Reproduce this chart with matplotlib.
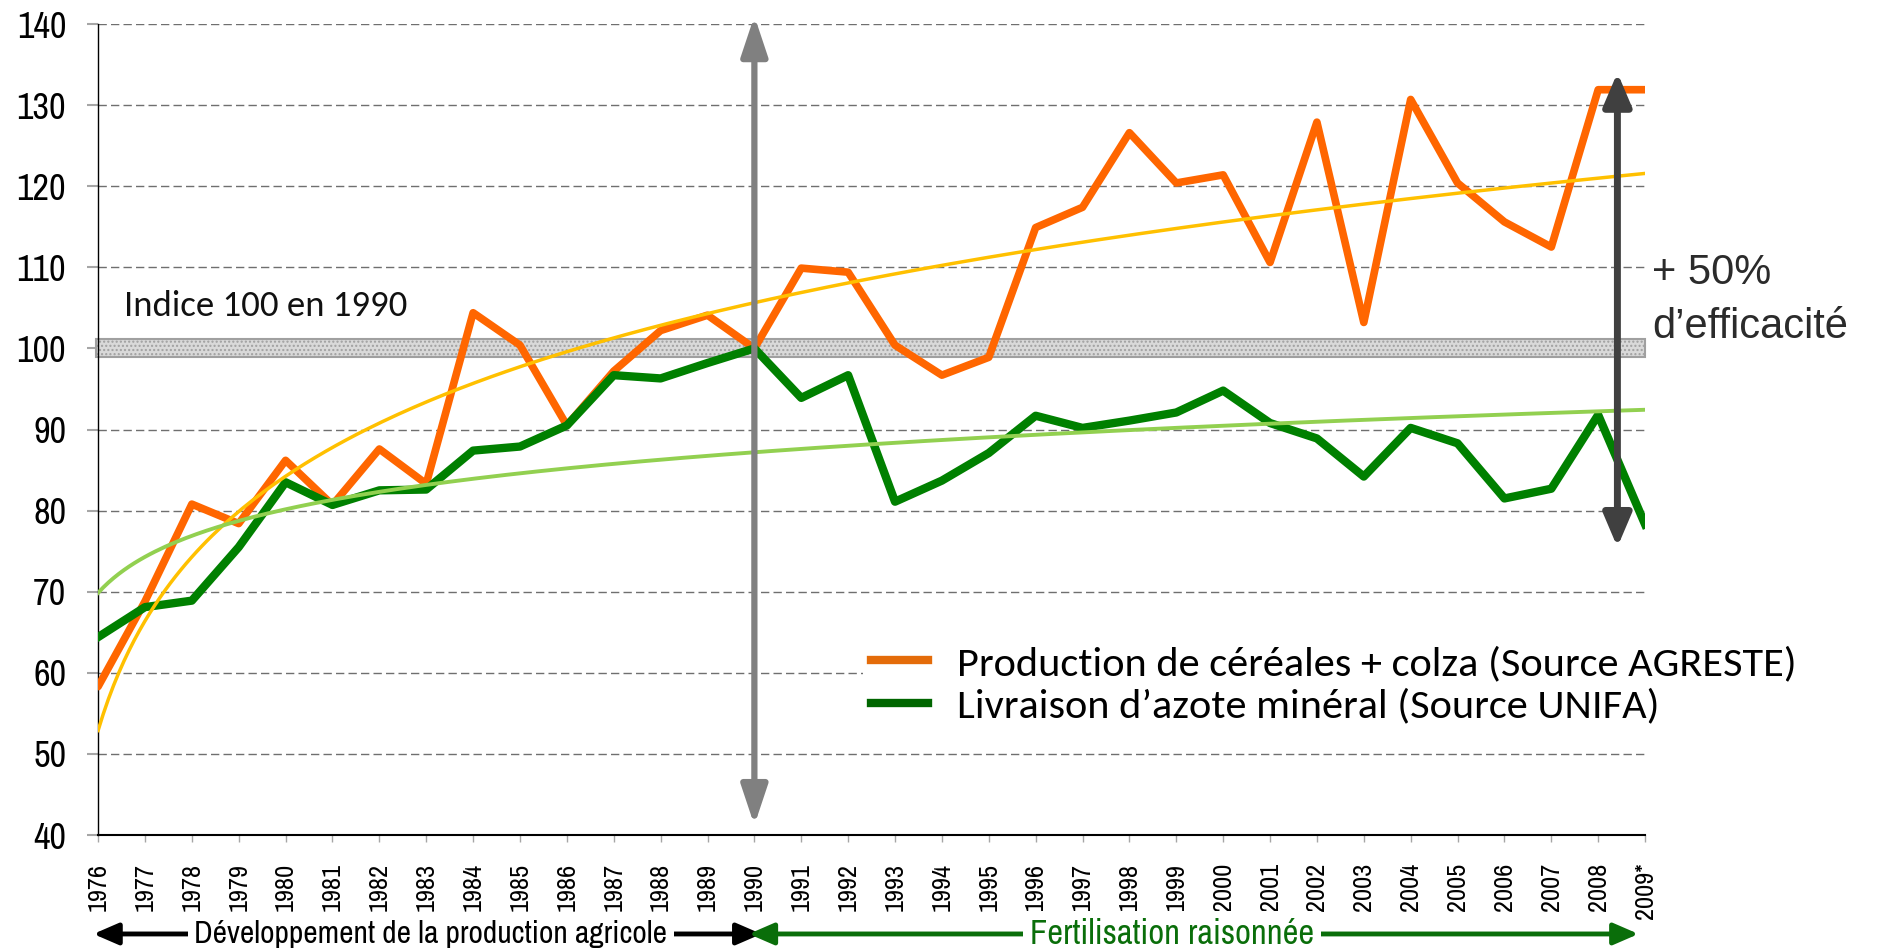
import numpy as np
import matplotlib.pyplot as plt
from matplotlib.lines import Line2D
from matplotlib.patches import Rectangle

# --- data (indices, base 100 en 1990) ---
years = [str(y) for y in range(1976, 2009)] + ["2009*"]
production = [58.3, 68.8, 80.8, 78.4, 86.2, 80.7, 87.6, 83.3, 104.4, 100.4,
              90.5, 97.2, 102.2, 104.1, 100.0, 109.9, 109.4, 100.4, 96.7, 98.9,
              114.9, 117.4, 126.6, 120.4, 121.4, 110.6, 127.9, 103.2, 130.7, 120.4,
              115.6, 112.5, 131.9, 131.9]
azote = [64.4, 68.1, 68.9, 75.5, 83.5, 80.7, 82.5, 82.6, 87.4, 87.9,
         90.5, 96.7, 96.3, 98.2, 100.0, 93.9, 96.7, 81.1, 83.7, 87.1,
         91.7, 90.2, 91.1, 92.1, 94.8, 90.8, 88.9, 84.2, 90.2, 88.3,
         81.5, 82.7, 91.8, 78.3]
labels = ["Production de céréales + colza (Source AGRESTE)",
          "Livraison d\u2019azote minéral (Source UNIFA)"]

x = np.arange(len(years))

# tendances logarithmiques (comme Excel)
lx = np.log(x + 1)
a1, b1 = np.polyfit(lx, production, 1)
a2, b2 = np.polyfit(lx, azote, 1)
xs = np.linspace(0, len(years) - 1, 300)
trend_prod = a1 * np.log(xs + 1) + b1
trend_az = a2 * np.log(xs + 1) + b2

NARROW = ['Archivo Narrow', 'Roboto Condensed', 'DejaVu Sans']
REG = ['Liberation Sans', 'DejaVu Sans']
CAL = ['Carlito', 'DejaVu Sans']

fig = plt.figure(figsize=(18.79, 9.49), dpi=100)
ax = fig.add_axes([0.0522, 0.1201, 0.8233, 0.8546])

ax.set_xlim(0, len(years) - 1)
ax.set_ylim(40, 140)
ax.set_yticks(range(40, 141, 10))
ax.set_xticks(x)
ax.set_xticklabels(years, rotation=90, family=NARROW, fontsize=19)
for t in ax.get_yticklabels():
    t.set_family(NARROW)
    t.set_fontsize(26)

ax.yaxis.grid(True, linestyle=(0, (6, 3)), color='#6f6f6f', linewidth=1)
ax.set_axisbelow(True)
for s in ['top', 'right']:
    ax.spines[s].set_visible(False)
ax.spines['left'].set_linewidth(1)
ax.spines['bottom'].set_linewidth(1.5)
ax.tick_params(axis='y', length=8, width=1.5, color='#a6a6a6', pad=15)
ax.tick_params(axis='x', length=5, width=1, color='#a6a6a6', pad=15)

# bande indice 100
ax.add_patch(Rectangle((-0.05, 99.0), len(years) - 1 + 0.05, 2.2,
                       facecolor='#d9d9d9', edgecolor='#a0a0a0', hatch='....',
                       linewidth=1.5, zorder=1.5, clip_on=False))

ax.plot(x, production, color='#ff6600', lw=5.5, solid_joinstyle='round',
        solid_capstyle='round', zorder=3)
ax.plot(x, azote, color='#008000', lw=6, solid_joinstyle='round', zorder=3)
ax.plot(xs, trend_prod, color='#ffc000', lw=2.5, zorder=4)
ax.plot(xs, trend_az, color='#92d050', lw=2.8, zorder=4)

ax.text(0.55, 105.2, "Indice 100 en 1990", family=CAL, fontsize=26.5,
        va='center', ha='left', color='#111111')

# fleche verticale 1990
ax.annotate("", xy=(14, 141.0), xytext=(14, 41.2),
            arrowprops=dict(arrowstyle='<|-|>,head_length=2.4,head_width=0.8',
                            mutation_scale=10, color='#808080', lw=4.5,
                            shrinkA=0, shrinkB=0), zorder=5,
            annotation_clip=False)
# fleche +50%
ax.annotate("", xy=(32.41, 134.0), xytext=(32.41, 75.5),
            arrowprops=dict(arrowstyle='<|-|>,head_length=2.0,head_width=0.85',
                            mutation_scale=10, color='#404040', lw=5,
                            shrinkA=0, shrinkB=0), zorder=5,
            annotation_clip=False)
ax.text(33.15, 109.3, "+ 50%", family=REG, fontsize=30, color='#2b2b2b',
        va='center', ha='left', clip_on=False)
ax.text(33.15, 102.6, "d\u2019efficacité", family=REG, fontsize=30,
        color='#2b2b2b', va='center', ha='left', clip_on=False)

# fleches du bas
yb = -0.122
ax.annotate("", xy=(-0.1, yb), xytext=(14.15, yb),
            xycoords=('data', 'axes fraction'), textcoords=('data', 'axes fraction'),
            arrowprops=dict(arrowstyle='<|-|>,head_length=1.5,head_width=0.65',
                            mutation_scale=10, color='black', lw=3.5,
                            shrinkA=0, shrinkB=0), annotation_clip=False)
ax.annotate("", xy=(13.88, yb), xytext=(32.86, yb),
            xycoords=('data', 'axes fraction'), textcoords=('data', 'axes fraction'),
            arrowprops=dict(arrowstyle='<|-|>,head_length=1.5,head_width=0.65',
                            mutation_scale=10, color='#0a6e0a', lw=3.5,
                            shrinkA=0, shrinkB=0), annotation_clip=False)
ax.annotate("Développement de la production agricole", xy=(7.1, yb),
            xycoords=('data', 'axes fraction'), family=NARROW, fontsize=22.6,
            ha='center', va='center', color='black', annotation_clip=False,
            bbox=dict(boxstyle='square,pad=0.2', fc='white', ec='none'))
ax.annotate("Fertilisation raisonnée", xy=(22.9, yb),
            xycoords=('data', 'axes fraction'), family=NARROW, fontsize=24.8,
            ha='center', va='center', color='#0a6e0a', annotation_clip=False,
            bbox=dict(boxstyle='square,pad=0.2', fc='white', ec='none'))

handles = [Line2D([], [], color='#e46c0a', lw=6),
           Line2D([], [], color='#006600', lw=6)]
leg = fig.legend(handles, labels, loc='center left',
                 bbox_to_anchor=(863 / 1879, 1 - 685 / 949),
                 prop={'family': CAL, 'size': 30.5}, frameon=True,
                 handlelength=1.33, handletextpad=0.7, labelspacing=0.13,
                 borderpad=0.2, borderaxespad=0)
leg.get_frame().set_facecolor('white')
leg.get_frame().set_edgecolor('none')
leg.get_frame().set_alpha(1)

fig.savefig("out.png", dpi=100)
